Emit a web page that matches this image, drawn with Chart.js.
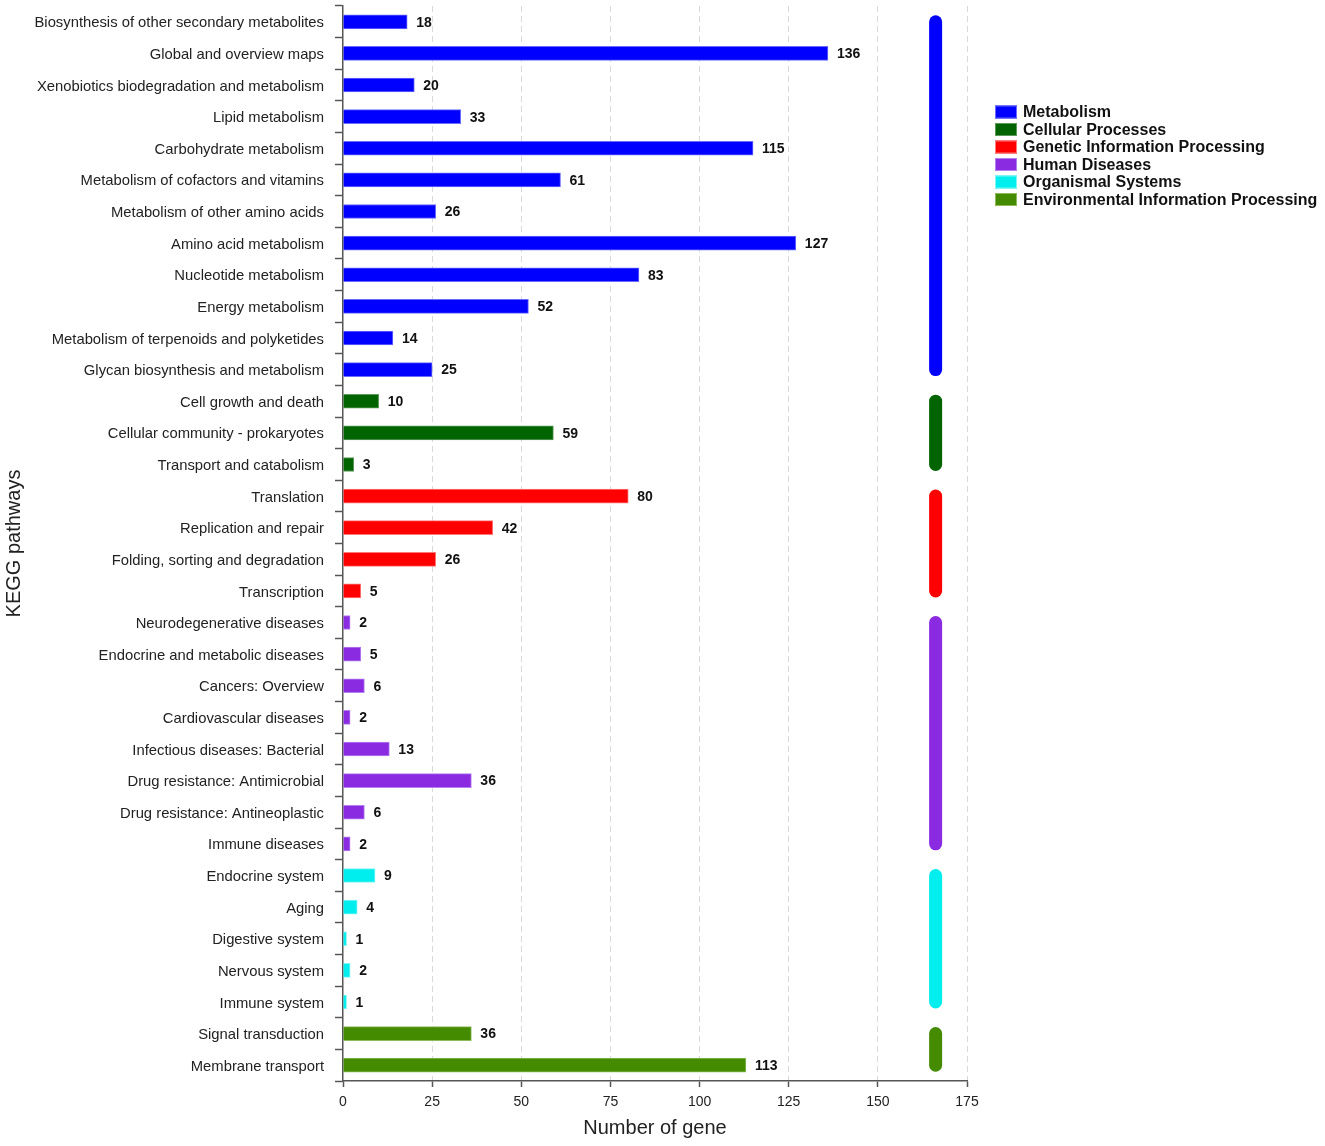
<!DOCTYPE html>
<html>
<head>
<meta charset="utf-8">
<title>KEGG pathways</title>
<script src="https://cdn.jsdelivr.net/npm/chart.js@4.4.1/dist/chart.umd.min.js"></script>
<style>
  html, body { margin: 0; padding: 0; background: #fff; }
  #wrap { width: 1325px; height: 1146px; }
</style>
</head>
<body>
<div id="wrap"><canvas id="keggChart"></canvas></div>
<script>
// pathways, top to bottom
var pathways = [
    "Biosynthesis of other secondary metabolites",
    "Global and overview maps",
    "Xenobiotics biodegradation and metabolism",
    "Lipid metabolism",
    "Carbohydrate metabolism",
    "Metabolism of cofactors and vitamins",
    "Metabolism of other amino acids",
    "Amino acid metabolism",
    "Nucleotide metabolism",
    "Energy metabolism",
    "Metabolism of terpenoids and polyketides",
    "Glycan biosynthesis and metabolism",
    "Cell growth and death",
    "Cellular community - prokaryotes",
    "Transport and catabolism",
    "Translation",
    "Replication and repair",
    "Folding, sorting and degradation",
    "Transcription",
    "Neurodegenerative diseases",
    "Endocrine and metabolic diseases",
    "Cancers: Overview",
    "Cardiovascular diseases",
    "Infectious diseases: Bacterial",
    "Drug resistance: Antimicrobial",
    "Drug resistance: Antineoplastic",
    "Immune diseases",
    "Endocrine system",
    "Aging",
    "Digestive system",
    "Nervous system",
    "Immune system",
    "Signal transduction",
    "Membrane transport"
];

var geneCounts = [18, 136, 20, 33, 115, 61, 26, 127, 83, 52, 14, 25,
                  10, 59, 3,
                  80, 42, 26, 5,
                  2, 5, 6, 2, 13, 36, 6, 2,
                  9, 4, 1, 2, 1,
                  36, 113];

// index into groupNames for every pathway
var pathwayGroup = [0, 0, 0, 0, 0, 0, 0, 0, 0, 0, 0, 0,
                    1, 1, 1,
                    2, 2, 2, 2,
                    3, 3, 3, 3, 3, 3, 3, 3,
                    4, 4, 4, 4, 4,
                    5, 5];

var groupNames = ["Metabolism", "Cellular Processes", "Genetic Information Processing",
                  "Human Diseases", "Organismal Systems", "Environmental Information Processing"];
var groupColors = ["#0000FF", "#006400", "#FF0000", "#8A2BE2", "#00EEEE", "#458B00"];
var groupBorders = ["#6b6bff", "#5c9a5c", "#ff7a7a", "#b47ff0", "#7ff6f6", "#8cba5c"];

var xTicks = [0, 25, 50, 75, 100, 125, 150, 175];

var FONT = '"Liberation Sans", Arial, sans-serif';

// coloured rounded strips on the right, one per group
var sideBars = {
    id: 'sideBars',
    afterDatasetsDraw: function (chart) {
        var c = chart.ctx, xs = chart.scales.x, ys = chart.scales.y;
        var px = xs.getPixelForValue(166.2);
        groupNames.forEach(function (name, gi) {
            var first = pathwayGroup.indexOf(gi);
            var last = pathwayGroup.lastIndexOf(gi);
            c.save();
            c.strokeStyle = groupColors[gi];
            c.lineWidth = 13;
            c.lineCap = 'round';
            c.beginPath();
            c.moveTo(px, ys.getPixelForValue(first));
            c.lineTo(px, ys.getPixelForValue(last));
            c.stroke();
            c.restore();
        });
    }
};

// numbers at the end of bars
var valueLabels = {
    id: 'valueLabels',
    afterDatasetsDraw: function (chart) {
        var c = chart.ctx;
        var meta = chart.getDatasetMeta(0);
        c.save();
        c.font = 'bold 14px ' + FONT;
        c.fillStyle = '#111';
        c.textAlign = 'left';
        c.textBaseline = 'middle';
        meta.data.forEach(function (bar, i) {
            c.fillText(geneCounts[i], bar.x + 9, bar.y + 1);
        });
        c.restore();
    }
};

// group legend
var groupLegend = {
    id: 'groupLegend',
    afterDraw: function (chart) {
        var c = chart.ctx;
        c.save();
        c.font = 'bold 16px ' + FONT;
        c.textBaseline = 'middle';
        groupNames.forEach(function (name, i) {
            var cy = 112 + i * 17.5;
            c.fillStyle = groupColors[i];
            c.fillRect(995, cy - 6.5, 22, 13);
            c.strokeStyle = groupBorders[i];
            c.lineWidth = 1;
            c.strokeRect(995.5, cy - 6, 21, 12);
            c.fillStyle = '#111';
            c.fillText(name, 1023, cy + 1);
        });
        c.restore();
    }
};

var ctx = document.getElementById('keggChart').getContext('2d');
var keggChart = new Chart(ctx, {
    type: 'bar',
    data: {
        labels: pathways,
        datasets: [{
            data: geneCounts,
            backgroundColor: pathwayGroup.map(function (g) { return groupColors[g]; }),
            borderColor: pathwayGroup.map(function (g) { return groupBorders[g]; }),
            borderWidth: 1,
            barThickness: 14
        }]
    },
    options: {
        indexAxis: 'y',
        responsive: true,
        maintainAspectRatio: false,
        animation: false,
        layout: { padding: { top: 6, right: 358, left: 0, bottom: 0 } },
        plugins: {
            legend: { display: false },
            tooltip: { enabled: false }
        },
        scales: {
            x: {
                min: 0,
                max: 175,
                afterBuildTicks: function (scale) {
                    scale.ticks = xTicks.map(function (v) { return { value: v }; });
                },
                afterFit: function (scale) { scale.height = 65; },
                grid: {
                    color: function (c) {
                        return c.tick && c.tick.value === 0 ? 'rgba(0,0,0,0)' : '#d9d9d9';
                    },
                    lineWidth: 1,
                    tickColor: '#555',
                    tickLength: 6,
                    tickWidth: 1.5
                },
                border: { color: '#555', width: 1.5, dash: [6, 4] },
                ticks: {
                    color: '#222',
                    font: { family: FONT, size: 14 },
                    padding: 7
                },
                title: {
                    display: true,
                    text: 'Number of gene',
                    color: '#222',
                    font: { family: FONT, size: 20 },
                    padding: { top: 0, bottom: 6 }
                }
            },
            y: {
                afterFit: function (scale) {
                    scale.width = 343;
                    scale.paddingTop = 0;
                    scale.paddingBottom = 0;
                },
                grid: {
                    offset: true,
                    drawOnChartArea: false,
                    drawTicks: true,
                    tickLength: 8,
                    tickColor: '#555',
                    tickWidth: 1.5
                },
                border: { color: '#555', width: 1.5 },
                ticks: {
                    color: '#222',
                    font: { family: FONT, size: 14.8 },
                    padding: 11,
                    labelOffset: 1.5,
                    autoSkip: false
                },
                title: {
                    display: true,
                    text: 'KEGG pathways',
                    color: '#222',
                    font: { family: FONT, size: 20 },
                    padding: { top: 2, bottom: 0 }
                }
            }
        }
    },
    plugins: [sideBars, valueLabels, groupLegend]
});
</script>
</body>
</html>
